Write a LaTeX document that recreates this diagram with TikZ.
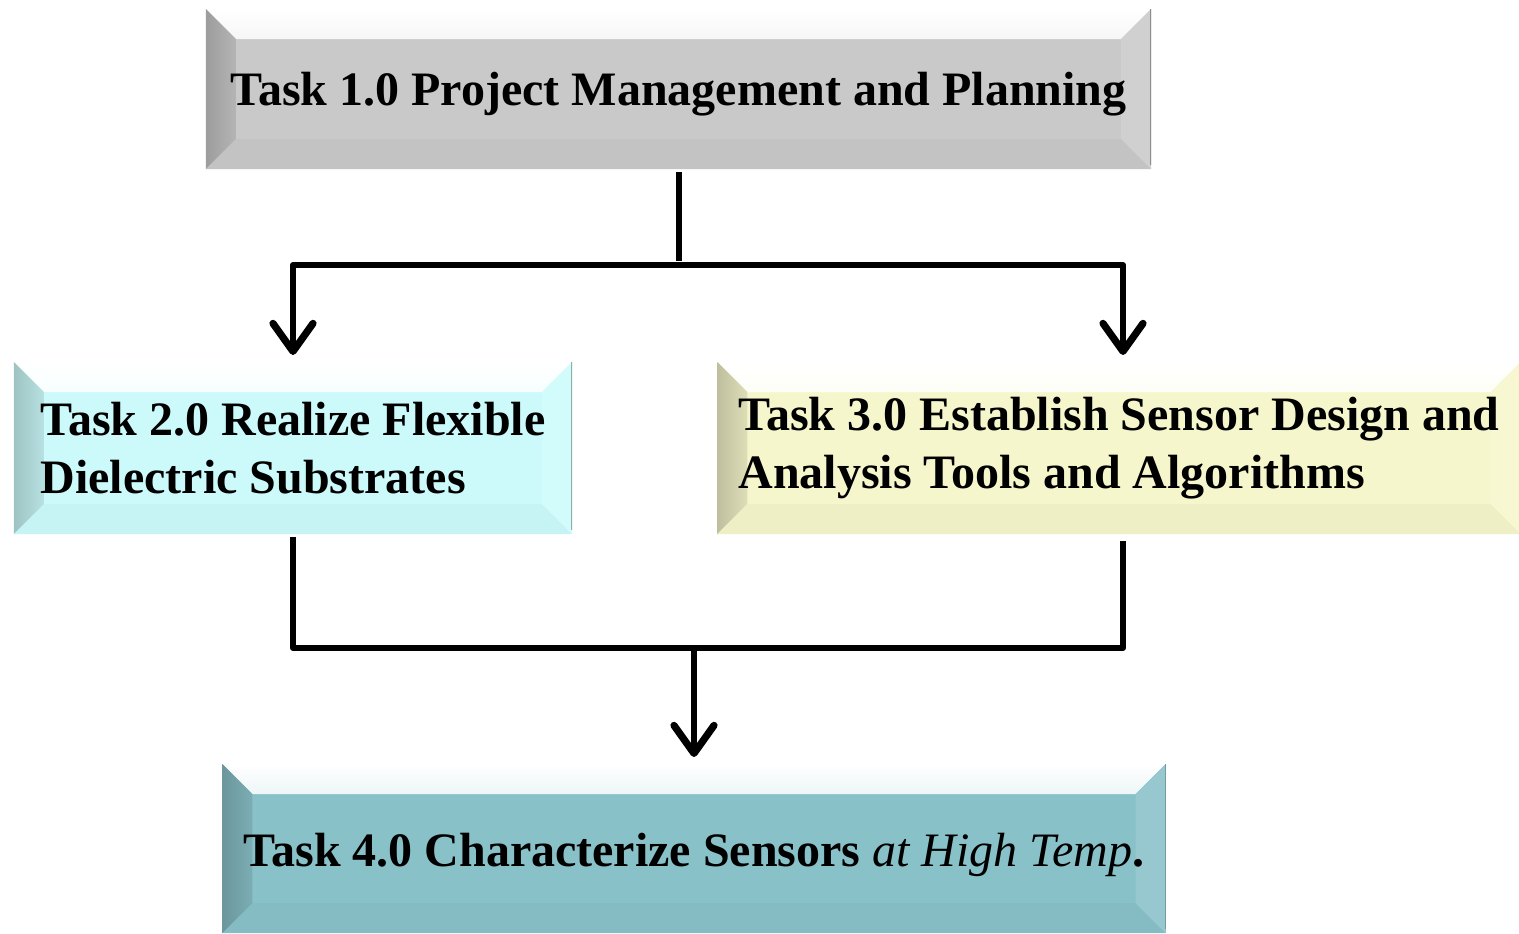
\documentclass[tikz,border=0pt]{standalone}
\usepackage{fontspec}
\setmainfont{Liberation Serif}
\usepackage[dvipsnames]{xcolor}
\usetikzlibrary{arrows.meta}

\definecolor{taskgray}{RGB}{201,201,201}
\definecolor{taskcyan}{RGB}{204,250,250}
\definecolor{taskyellow}{RGB}{246,246,204}
\definecolor{taskteal}{RGB}{137,193,200}

\begin{document}
\begin{tikzpicture}[>={Straight Barb[length=14pt,width=20pt,line width=3.6pt,line cap=round,line join=round]},shorten >=2pt,node distance=50pt,line width=3pt,line join=round,
    task box/.style={rectangle,fill=#1,inner xsep=10.5pt,font=\fontsize{24pt}{29pt}\selectfont\bfseries,
        path picture={
            % bevel strips
            \shade[top color=white,bottom color=#1!85!white] (path picture bounding box.north west) -- (path picture bounding box.north east)
                -- ([shift={(-15pt,-15pt)}]path picture bounding box.north east) -- ([shift={(15pt,-15pt)}]path picture bounding box.north west) -- cycle;
            \shade[left color=#1!78!black,right color=#1!90!black] (path picture bounding box.north west) -- ([shift={(15pt,-15pt)}]path picture bounding box.north west)
                -- ([shift={(15pt,15pt)}]path picture bounding box.south west) -- (path picture bounding box.south west) -- cycle;
            \fill[#1!97!black] (path picture bounding box.south west) -- ([shift={(15pt,15pt)}]path picture bounding box.south west)
                -- ([shift={(-15pt,15pt)}]path picture bounding box.south east) -- (path picture bounding box.south east) -- cycle;
            \fill[#1!88!white] (path picture bounding box.north east) -- ([shift={(-15pt,-15pt)}]path picture bounding box.north east)
                -- ([shift={(-15pt,15pt)}]path picture bounding box.south east) -- (path picture bounding box.south east) -- cycle;
            \draw[#1!70!black,line width=1pt] (path picture bounding box.north east) -- (path picture bounding box.south east);
        }}]
            \useasboundingbox (-339.25pt,44.5pt) rectangle (420.25pt,-422pt);

            \node[task box=taskgray, minimum width=472.5pt, minimum height=80pt, text height=22pt, text depth=5.5pt] (1) at (0,0) {Task 1.0 Project Management and Planning};
            \node[] (x) [below of = 1, yshift = -38] {};
            \node[task box=taskcyan, minimum width=279pt, minimum height=86pt, align=left] (2) [below of = x, xshift = -192.75, yshift = -41.5]
                {Task 2.0 Realize Flexible\\Dielectric Substrates};
            \node[task box=taskyellow, minimum width=400pt, minimum height=86pt, align=left] (3) [below of = x, xshift = 220.25, yshift = -41.5]
                {Task 3.0 Establish Sensor Design and\\Analysis Tools and Algorithms};
            \node[] (y) [below of = x, xshift = 7.75, yshift = -141.5] {};
            \node[task box=taskteal, minimum width=471.5pt, minimum height=84.5pt, text height=23pt, text depth=5.5pt] (4) [below of = y, yshift = -50.25]
                {Task 4.0 Characterize Sensors \textit{\mdseries at High Temp}.};

            \draw (1) -- (x.center);
            \draw[->] (x.center) -| (2);
            \draw[->] (x.center) -| ([xshift=2pt]3.north);
            \draw (2) |- (y.center) -| ([xshift=2pt]3.south);
            \draw[->] (y.center) -- (4);
        \end{tikzpicture}
\end{document}
